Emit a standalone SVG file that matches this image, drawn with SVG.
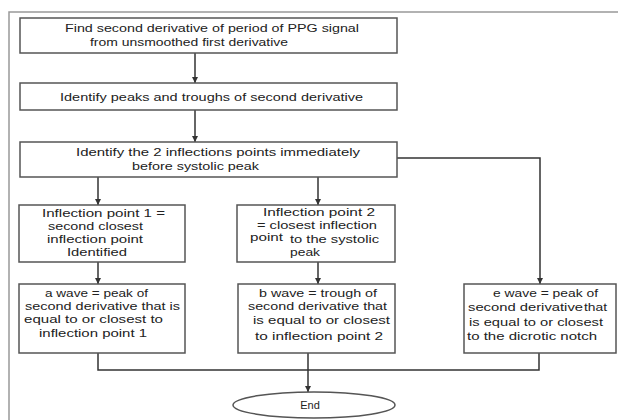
<svg xmlns="http://www.w3.org/2000/svg" width="618" height="420" viewBox="0 0 618 420">
<defs>
<marker id="ah" viewBox="0 0 10 10" refX="10" refY="5" markerWidth="6" markerHeight="6" markerUnits="userSpaceOnUse" orient="auto">
<path d="M0,0 L10,5 L0,10 z" fill="#333"/>
</marker>
<style>
.box{fill:#fff;stroke:#555;stroke-width:1.5}
.frame{fill:none;stroke:#999;stroke-width:1.5}
.c{fill:none;stroke:#333;stroke-width:1.5}
.ca{fill:none;stroke:#333;stroke-width:1.5;marker-end:url(#ah)}
text{font-family:"Liberation Sans","Noto Sans",sans-serif;font-size:11px;fill:#222}
</style>
</defs>
<rect width="618" height="420" fill="#fff"/>
<path class="frame" d="M9,420 V12 H618"/>
<g id="connectors">
<path class="ca" d="M195,53 V83"/>
<path class="ca" d="M195,110 V142"/>
<path class="ca" d="M98,177 V205"/>
<path class="ca" d="M318,177 V205"/>
<path class="ca" d="M397,158 H540 V284"/>
<path class="ca" d="M98,262 V284"/>
<path class="ca" d="M318,262 V284"/>
<path class="c" d="M98,353 V370 H539 V353"/>
<path class="ca" d="M308,353 V392"/>
</g>
<g id="n1">
<rect class="box" x="20" y="18" width="377" height="35"/>
<text x="65" y="32" textLength="294" lengthAdjust="spacingAndGlyphs">Find second derivative of period of PPG signal</text>
<text x="90" y="46" textLength="198" lengthAdjust="spacingAndGlyphs">from unsmoothed first derivative</text>
</g>
<g id="n2">
<rect class="box" x="20" y="83" width="377" height="27"/>
<text x="60" y="101" textLength="303" lengthAdjust="spacingAndGlyphs">Identify peaks and troughs of second derivative</text>
</g>
<g id="n3">
<rect class="box" x="20" y="142" width="377" height="35"/>
<text x="76" y="156" textLength="284" lengthAdjust="spacingAndGlyphs">Identify the 2 inflections points immediately</text>
<text x="132" y="170" textLength="127" lengthAdjust="spacingAndGlyphs">before systolic peak</text>
</g>
<g id="n4">
<rect class="box" x="19" y="205" width="166" height="57"/>
<text x="42" y="217" textLength="123" lengthAdjust="spacingAndGlyphs">Inflection point 1 =</text>
<text x="48" y="230" textLength="95" lengthAdjust="spacingAndGlyphs">second closest</text>
<text x="47" y="243" textLength="96" lengthAdjust="spacingAndGlyphs">inflection point</text>
<text x="67" y="256" textLength="60" lengthAdjust="spacingAndGlyphs">Identified</text>
</g>
<g id="n5">
<rect class="box" x="237" y="205" width="158" height="57"/>
<text x="263" y="216" textLength="112" lengthAdjust="spacingAndGlyphs">Inflection point 2</text>
<text x="257" y="229" textLength="120" lengthAdjust="spacingAndGlyphs">= closest inflection</text>
<text x="250" y="241" textLength="33" lengthAdjust="spacingAndGlyphs">point</text>
<text x="290" y="243" textLength="89" lengthAdjust="spacingAndGlyphs">to the systolic</text>
<text x="290" y="256" textLength="30" lengthAdjust="spacingAndGlyphs">peak</text>
</g>
<g id="na">
<rect class="box" x="19" y="284" width="166" height="69"/>
<text x="45" y="297" textLength="103" lengthAdjust="spacingAndGlyphs">a wave = peak of</text>
<text x="25" y="310" textLength="155" lengthAdjust="spacingAndGlyphs">second derivative that is</text>
<text x="24" y="323" textLength="139" lengthAdjust="spacingAndGlyphs">equal to or  closest to</text>
<text x="39" y="337" textLength="108" lengthAdjust="spacingAndGlyphs">inflection point 1</text>
</g>
<g id="nb">
<rect class="box" x="238" y="284" width="157" height="69"/>
<text x="259" y="297" textLength="118" lengthAdjust="spacingAndGlyphs">b wave = trough of</text>
<text x="248" y="310" textLength="139" lengthAdjust="spacingAndGlyphs">second derivative that</text>
<text x="253" y="324" textLength="137" lengthAdjust="spacingAndGlyphs">is equal to or  closest</text>
<text x="255" y="340" textLength="128" lengthAdjust="spacingAndGlyphs">to inflection point 2</text>
</g>
<g id="ne">
<rect class="box" x="464" y="284" width="152" height="69"/>
<text x="493" y="297" textLength="105" lengthAdjust="spacingAndGlyphs">e wave = peak of</text>
<text x="468" y="311" textLength="115" lengthAdjust="spacingAndGlyphs">second derivative</text>
<text x="584" y="311" textLength="23" lengthAdjust="spacingAndGlyphs">that</text>
<text x="469" y="326" textLength="134" lengthAdjust="spacingAndGlyphs">is equal to or closest</text>
<text x="467" y="340" textLength="130" lengthAdjust="spacingAndGlyphs">to the dicrotic notch</text>
</g>
<g id="end">
<ellipse class="box" cx="314" cy="405" rx="81" ry="13"/>
<text x="310" y="409" text-anchor="middle">End</text>
</g>
</svg>
